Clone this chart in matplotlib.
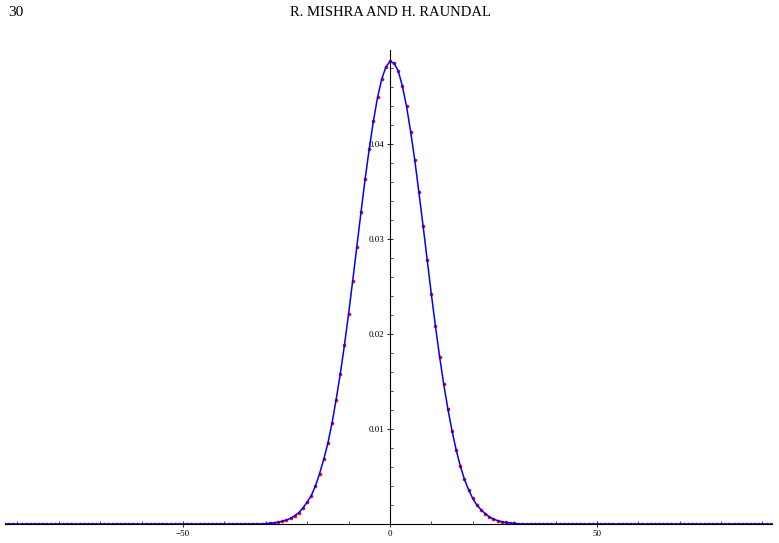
import numpy as np
import matplotlib
matplotlib.use("Agg")
import matplotlib.pyplot as plt
from matplotlib.ticker import MultipleLocator

# values at integer points, x = -30 .. 30
x_core = list(range(-30, 31))
y_core = [
    0.00005, 0.00008, 0.00013, 0.00019, 0.00029, 0.00042, 0.00060, 0.00086,
    0.0012, 0.0017, 0.0023, 0.0030, 0.0040, 0.0053, 0.0068, 0.0085, 0.0106,
    0.0131, 0.0158, 0.0188, 0.0221, 0.0256, 0.0292, 0.0328, 0.0363, 0.0395,
    0.0424, 0.0449, 0.0468, 0.0481,
    0.0487,
    0.0485, 0.0477, 0.0461, 0.0440, 0.0413, 0.0383, 0.0349, 0.0314, 0.0278,
    0.0242, 0.0208, 0.0176, 0.0147, 0.0121, 0.0098, 0.0078, 0.0061, 0.0047,
    0.0036, 0.0027, 0.0020, 0.0015, 0.0011, 0.00075, 0.00052, 0.00036,
    0.00024, 0.00016, 0.00010, 0.00007,
]
x_left = list(range(-93, -30))
x_right = list(range(31, 93))
xs = np.array(x_left + x_core + x_right)
ys = np.array([0.0] * len(x_left) + y_core + [0.0] * len(x_right))

plt.rcParams["font.family"] = ["Liberation Serif", "DejaVu Serif"]

fig = plt.figure(figsize=(7.79, 5.43), dpi=100)
ax = fig.add_axes([5 / 779, 19 / 543, 767 / 779, 474 / 543])

ax.plot(xs, ys, "o", color="#ff0000", ms=2.6, mec="none", zorder=2)
ax.plot(xs, ys, color="#0000ff", lw=1.1, zorder=3)

ax.set_xlim(-93, 92.3)
ax.set_ylim(0, 0.0499)

for s in ("top", "right"):
    ax.spines[s].set_visible(False)
ax.spines["left"].set_position(("data", 0))
ax.spines["bottom"].set_position(("data", 0))
ax.spines["left"].set_linewidth(0.8)
ax.spines["bottom"].set_linewidth(0.8)

ax.xaxis.set_minor_locator(MultipleLocator(10))
ax.yaxis.set_minor_locator(MultipleLocator(0.002))
ax.set_xticks([-50, 0, 50])
ax.set_xticklabels(["\u221250", "0", "50"])
ax.set_yticks([0.01, 0.02, 0.03, 0.04])
ax.set_yticklabels(["0.01", "0.02", "0.03", "0.04"])
ax.tick_params(which="major", direction="inout", length=4, width=0.6,
               labelsize=6.5, pad=2)
ax.tick_params(which="minor", direction="in", length=2, width=0.5)

fig.text(8 / 779, 1 - 12 / 543, "30", fontsize=11, va="center", ha="left")
fig.text(390 / 779, 1 - 12 / 543, "R. MISHRA AND H. RAUNDAL", fontsize=10.5,
         va="center", ha="center")

fig.savefig("out.png", dpi=100)
